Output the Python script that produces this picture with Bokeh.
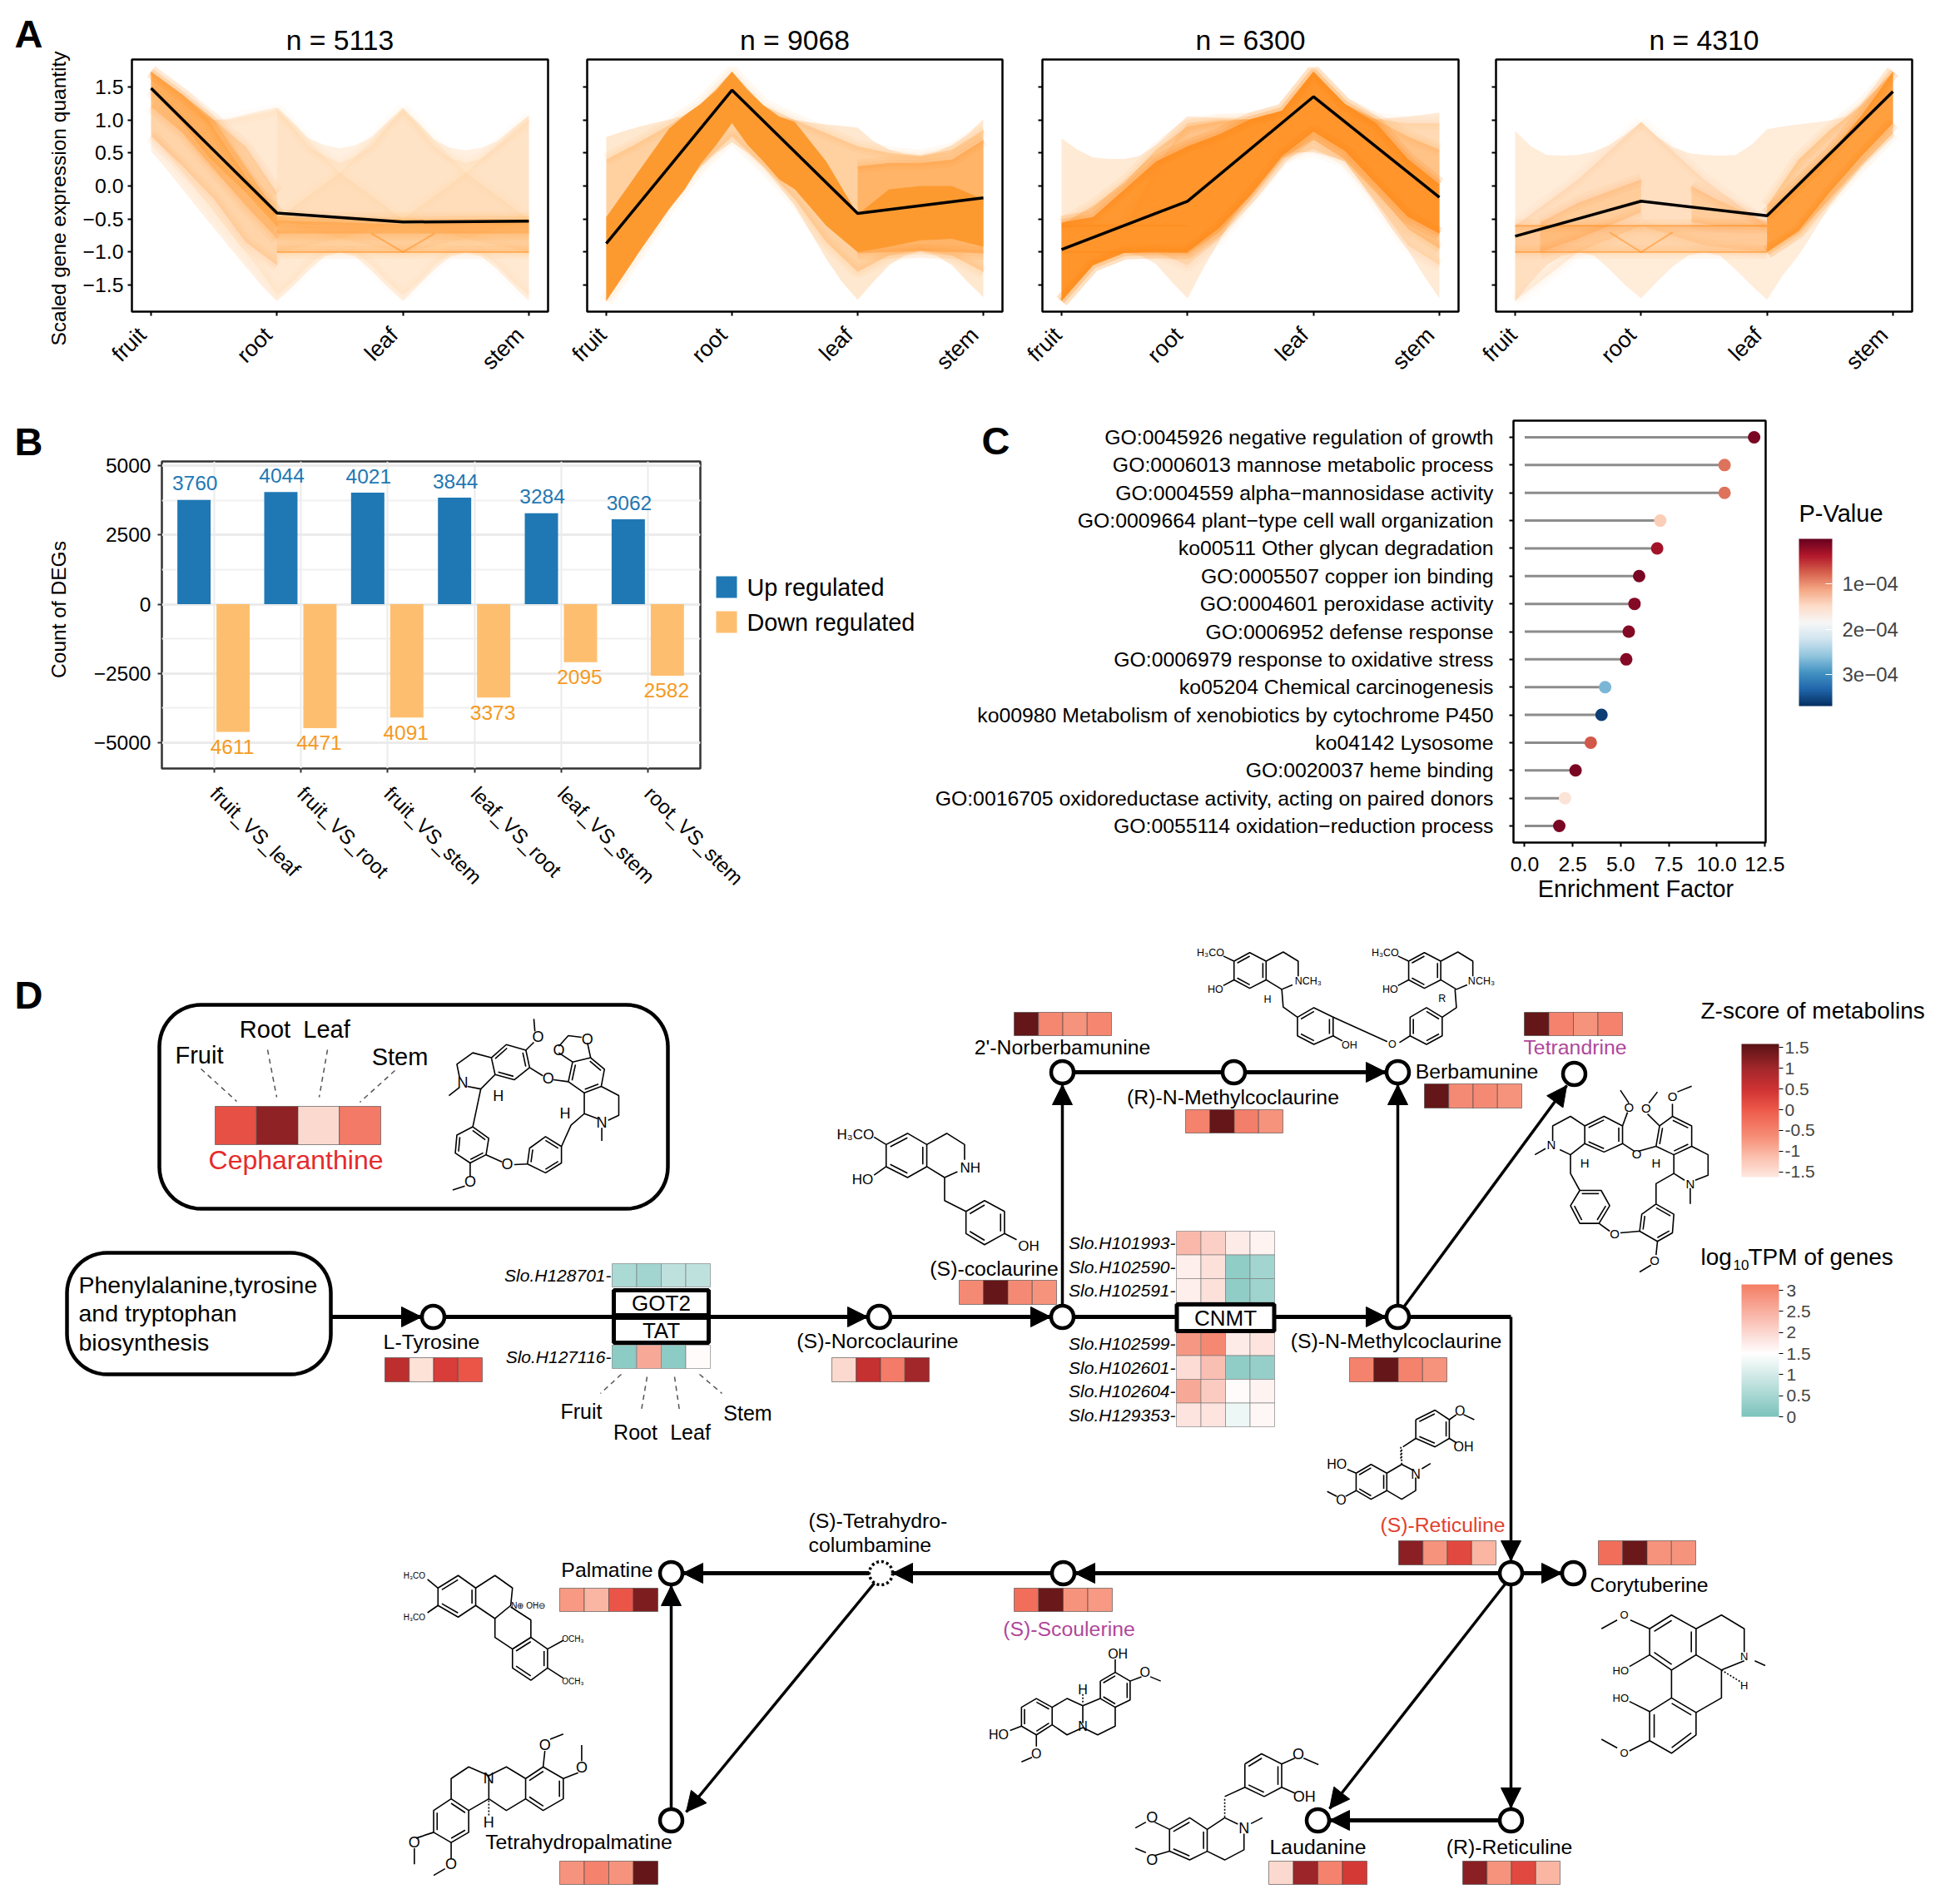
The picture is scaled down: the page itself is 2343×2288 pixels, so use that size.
import math
import numpy as np
from bokeh.plotting import figure
from bokeh.layouts import column, row
from bokeh.embed import file_html
from bokeh.resources import INLINE
from bokeh.models import (Range1d, FixedTicker, LinearColorMapper, ColorBar, ColumnDataSource, AllLabels)
from bokeh.core.properties import value
from bokeh.transform import transform
from bokeh.palettes import RdBu11

FONT = "Liberation Sans"

# ---------------------------------------------------------------- panel A data
TISSUES = ["fruit", "root", "leaf", "stem"]
N_GENES = [5113, 9068, 6300, 4310]
MEAN_1 = [1.48, -0.41, -0.545, -0.53]
MEAN_2 = [-0.87, 1.45, -0.415, -0.18]
MEAN_3 = [-0.96, -0.23, 1.35, -0.17]
MEAN_4 = [-0.76, -0.23, -0.45, 1.43]
X13 = [0, .25, .5, .75, 1, 1.25, 1.5, 1.75, 2, 2.25, 2.5, 2.75, 3]
X25 = [0, .125, .25, .375, .5, .625, .75, .875, 1, 1.125, 1.25, 1.375, 1.5, 1.625, 1.75, 1.875, 2, 2.125, 2.25, 2.375, 2.5, 2.625, 2.75, 2.875, 3]
OUT1_UP = [1.73, 1.55, 1.38, 1.18, 1.0, 1.02, 1.08, 1.14, 1.19, .97, .72, .62, .57, .62, .74, .97, 1.18, .95, .7, .58, .54, .58, .68, .88, 1.07]
OUT1_LOW = [.53, .25, -.05, -.35, -.64, -.93, -1.22, -1.5, -1.74, -1.52, -1.28, -1.07, -1.0, -1.07, -1.28, -1.52, -1.74, -1.5, -1.26, -1.07, -1.0, -1.07, -1.26, -1.5, -1.74]
OUT2_UP = [.74, .82, .89, .95, 1.0, 1.07, 1.24, 1.45, 1.73, 1.45, 1.22, 1.05, 1.0, .96, .93, .91, .88, .68, .55, .49, .47, .52, .62, .78, 1.01]
OUT2_LOW = [-1.74, -1.38, -1.03, -.66, -.3, 0, .28, .5, .66, .5, .28, 0, -.3, -.7, -1.1, -1.45, -1.72, -1.45, -1.2, -1.05, -.99, -1.05, -1.2, -1.45, -1.68]
OUT3_UP = [.72, .55, .43, .41, .41, .46, .62, .85, 1.05, 1.04, 1.03, 1.02, 1.01, 1.03, 1.14, 1.4, 1.73, 1.45, 1.24, 1.06, 1.01, 1.03, 1.05, 1.08, 1.11]
OUT3_LOW = [-1.74, -1.45, -1.2, -1.05, -1.01, -1.05, -1.18, -1.45, -1.7, -1.25, -.84, -.42, -.05, .3, .49, .51, .51, .45, .37, .05, -.3, -.65, -.97, -1.35, -1.7]
OUT4_UP = [.83, .6, .47, .46, .47, .52, .62, .78, .97, .75, .59, .5, .47, .46, .47, .62, .86, .9, .93, .96, .99, 1.05, 1.26, 1.48, 1.73]
OUT4_LOW = [-1.74, -1.45, -1.2, -1.05, -1.0, -1.05, -1.26, -1.5, -1.7, -1.45, -1.22, -1.05, -1.0, -1.05, -1.26, -1.5, -1.72, -1.35, -1.05, -.68, -.3, 0, .28, .52, .74]
# spread of the gene profiles: (opacity, x, upper, lower)
BANDS_1 = [
    (.13, X25, OUT1_UP, OUT1_LOW),
    (.07, X25, [1.73, 1.5, 1.3, 1.1, 1.0, 1.0, 1.05, 1.1, 1.15, .9, .6, .45, .35, .45, .6, .9, 1.15, .9, .6, .42, .35, .42, .6, .8, 1.0],
     [.8, .5, .2, -.1, -.4, -.7, -1.0, -1.3, -1.65, -1.45, -1.2, -1.02, -1.0, -1.02, -1.2, -1.45, -1.65, -1.45, -1.2, -1.02, -1.0, -1.02, -1.2, -1.45, -1.65]),
    (.06, [1, 1.5, 2], [1.19, .2, -.5], [-.5, -.8, -1.0]),
    (.06, [1, 1.5, 2], [-.5, .2, 1.18], [-1.0, -.8, -.5]),
    (.06, [2, 2.5, 3], [1.18, .2, -.5], [-.5, -.8, -1.0]),
    (.06, [2, 2.5, 3], [-.5, .2, 1.07], [-1.0, -.8, -.5]),
    (.22, [0, .25, .5, .75, 1], [1.73, 1.38, 1.0, .6, -.1], [.75, .3, -.2, -.85, -1.2]),
    (.26, [0, .25, .5, .75, 1], [1.73, 1.38, 1.0, .3, -.42], [1.2, .8, .25, -.3, -.8]),
    (.32, [0, .25, .45, .75, 1], [1.73, 1.38, 1.02, .15, -.42], [1.45, .95, .45, -.1, -.62]),
    (.25, [1, 1.5, 2, 2.5, 3], [-.45, -.5, -.5, -.5, -.5], [-1.0, -1.0, -1.0, -1.0, -1.0]),
    (.32, [1, 1.5, 2, 2.5, 3], [-.52, -.55, -.58, -.55, -.55], [-.72, -.72, -.72, -.72, -.72]),
]
LINES_1 = [([1, 3], [-1.0, -1.0]), ([1.75, 2, 2.25], [-.72, -1.0, -.72])]
BANDS_2 = [
    (.20, X25, OUT2_UP, OUT2_LOW),
    (.25, X13, [.4, .65, .92, 1.24, 1.73, 1.22, 1.0, .8, .6, .5, .45, .55, .85],
     [-1.74, -1.03, -.3, .3, .75, .3, -.2, -.85, -1.3, -1.05, -.98, -1.05, -1.3]),
    (.40, [2, 2.25, 2.5, 2.75, 3], [.3, .35, .35, .4, .7], [-1.02, -1.0, -.98, -1.0, -1.02]),
    (.95, [0, .25, .5, .625, .75, .875, 1, 1.125, 1.25, 1.375, 1.5, 1.75, 2, 2.25, 2.5, 2.75, 3],
     [-.47, .2, .87, 1.07, 1.24, 1.45, 1.73, 1.45, 1.22, 1.05, .97, .37, -.43, -.05, 0, 0, -.2],
     [-1.74, -1.03, -.35, -.05, .33, .62, .95, .62, .37, .1, -.05, -.6, -1.0, -.92, -.82, -.8, -.92]),
]
BANDS_3 = [
    (.18, X25, OUT3_UP, OUT3_LOW),
    (.16, X13, [-.6, -.6, -.6, .3, .95, 1.0, 1.01, 1.14, 1.73, 1.24, 1.01, .95, .95],
     [-1.74, -1.2, -1.01, -1.0, -1.2, -.8, -.2, .42, .55, .37, -.25, -.9, -1.2]),
    (.28, X13, [-.58, -.3, .05, .55, .9, .98, 1.01, 1.14, 1.73, 1.24, 1.0, .75, .55],
     [-1.74, -1.2, -1.01, -1.0, -1.02, -.7, -.15, .42, .7, .4, -.1, -.65, -.95]),
    (.80, X13, [-.55, -.47, -.05, .37, .6, .78, 1.01, 1.14, 1.73, 1.24, .95, .41, .03],
     [-1.74, -1.2, -1.01, -.99, -1.0, -.64, -.14, .45, .82, .53, .03, -.47, -.72]),
]
BANDS_4 = [
    (.16, X25, OUT4_UP, OUT4_LOW),
    (.13, [0, .5, 1], [-.6, .1, .97], [-1.74, -1.0, -.6]),
    (.13, [1, 1.5, 2], [.97, .1, -.6], [-.6, -.9, -1.0]),
    (.24, [0, .5, 1, 1.5, 2], [-.6, -.6, -.6, -.6, -.6], [-1.0, -1.0, -1.0, -1.0, -1.0]),
    (.22, [.2, .5, 1], [-.55, -.25, .1], [-1.0, -.8, -.4]),
    (.22, [1.4, 1.6, 2], [.0, -.2, -.55], [-.55, -.6, -.62]),
    (.28, [2, 2.25, 2.5, 2.75, 3], [-.3, .4, .85, 1.22, 1.73], [-1.0, -.7, -.2, .32, .8]),
    (.70, [2, 2.25, 2.5, 2.75, 3], [-.43, .03, .49, 1.07, 1.73], [-1.0, -.68, -.09, .45, .95]),
]
LINES_3 = [([0, 1], [-.6, -.6]), ([0, 1], [-1.0, -1.0])]
LINES_4 = [([0, 2], [-.6, -.6]), ([0, 2], [-1.0, -1.0]), ([.75, 1, 1.25], [-.7, -1.0, -.7])]
Y_TICKS_A = [1.5, 1.0, .5, 0.0, -.5, -1.0, -1.5]
Y_LABELS_A = ["1.5", "1.0", "0.5", "0.0", "\u22120.5", "\u22121.0", "\u22121.5"]

# ---------------------------------------------------------------- panel B data
COMPARISONS = ["fruit_VS_leaf", "fruit_VS_root", "fruit_VS_stem", "leaf_VS_root", "leaf_VS_stem", "root_VS_stem"]
UP_COUNTS = [3760, 4044, 4021, 3844, 3284, 3062]
DOWN_COUNTS = [4611, 4471, 4091, 3373, 2095, 2582]

# ---------------------------------------------------------------- panel C data
GO_TERMS = [
    "GO:0045926 negative regulation of growth", "GO:0006013 mannose metabolic process",
    "GO:0004559 alpha\u2212mannosidase activity", "GO:0009664 plant\u2212type cell wall organization",
    "ko00511 Other glycan degradation", "GO:0005507 copper ion binding", "GO:0004601 peroxidase activity",
    "GO:0006952 defense response", "GO:0006979 response to oxidative stress", "ko05204 Chemical carcinogenesis",
    "ko00980 Metabolism of xenobiotics by cytochrome P450", "ko04142 Lysosome", "GO:0020037 heme binding",
    "GO:0016705 oxidoreductase activity, acting on paired donors", "GO:0055114 oxidation\u2212reduction process"]
ENRICHMENT = [11.95, 10.41, 10.41, 7.06, 6.9, 5.96, 5.72, 5.42, 5.29, 4.19, 4.0, 3.44, 2.65, 2.1, 1.8]
P_VALUES = [.1e-4, .85e-4, .85e-4, 1.4e-4, .3e-4, .1e-4, .15e-4, .15e-4, .15e-4, 2.7e-4, 3.6e-4, .7e-4, .1e-4, 1.6e-4, .1e-4]

# ---------------------------------------------------------------- panel D data
METABOLITES = ["Cepharanthine", "L-Tyrosine", "(S)-Norcoclaurine", "(S)-coclaurine", "2'-Norberbamunine",
               "(R)-N-Methylcoclaurine", "Berbamunine", "Tetrandrine", "(S)-N-Methylcoclaurine", "(S)-Reticuline",
               "Corytuberine", "(S)-Scoulerine", "Palmatine", "Tetrahydropalmatine", "Laudanine", "(R)-Reticuline"]
Z_SCORES = [[.1, 1.15, -1.45, -.4], [.7, -1.55, .35, .05], [-1.45, .6, -.42, 1.0], [-.6, 1.5, -.6, -.7],
            [1.5, -.55, -.7, -.55], [-.5, 1.5, -.45, -.7], [1.5, -.6, -.6, -.7], [1.5, -.5, -.7, -.5],
            [-.5, 1.5, -.5, -.7], [1.2, -.7, .2, -1.05], [-.25, 1.45, -.7, -.7], [-.25, 1.45, -.7, -.75],
            [-.75, -1.05, .05, 1.3], [-.7, -.5, -.7, 1.5], [-1.45, 1.05, -.5, .4], [1.2, -.7, .2, -1.05]]
GENES = ["Slo.H128701", "Slo.H127116", "Slo.H101993", "Slo.H102590", "Slo.H102591",
         "Slo.H102599", "Slo.H102601", "Slo.H102604", "Slo.H129353"]
LOG_TPM = [[.55, .45, .75, .75], [.2, 2.6, .2, 1.55], [2.4, 2.1, 1.75, 1.65], [1.7, 1.9, .25, .45],
           [1.7, 1.9, .25, .4], [2.8, 3.0, 1.75, 1.85], [1.95, 2.3, .25, .3], [2.6, 2.15, 1.55, 1.65],
           [1.85, 1.85, 1.3, 1.6]]

# ---------------------------------------------------------------- layout of the diagram (page pixels)
STRIP_AT = [(258, 1329, 199, 46), (462, 1631, 117, 29), (999, 1631, 117, 29), (1152, 1538, 117, 29),
            (1218, 1216, 117, 28), (1424, 1333, 117, 28), (1711, 1302, 117, 29), (1831, 1216, 118, 28),
            (1621, 1631, 117, 29), (1680, 1851, 117, 29), (1920, 1851, 117, 29), (1218, 1908, 118, 28),
            (672, 1908, 118, 28), (672, 2236, 118, 28), (1524, 2236, 118, 28), (1757, 2236, 117, 28)]
GENE_AT = [(735, 1518, 118, 28), (735, 1616, 118, 28), (1413, 1479, 118, 28.5), (1413, 1507.5, 118, 28.5),
           (1413, 1536, 118, 28.5), (1413, 1600, 118, 28.5), (1413, 1628.5, 118, 28.5), (1413, 1657, 118, 28.5),
           (1413, 1685.5, 118, 28.5)]
NAME_AT = [None, (518, 1612, "black"), (1054, 1611, "black"), (1194, 1524, "black"), (1276, 1258, "black"),
           (1481, 1318, "black"), (1774, 1287, "black"), (1892, 1258, "#B0479B"), (1677, 1611, "black"),
           (1733, 1832, "#E2412F"), (1981, 1904, "black"), (1284, 1957, "#B0479B"), (729, 1886, "black"),
           (695, 2213, "black"), (1583, 2219, "black"), (1813, 2219, "black")]
NODES = [(520, 1582), (1056, 1582), (1276, 1582), (1679, 1582), (1276, 1288), (1482, 1288), (1679, 1288), (1891, 1290),
         (1815, 1890), (1890, 1890), (1277, 1890), (806, 1890), (806, 2187), (1583, 2187), (1815, 2187)]
DASH_NODE = (1058, 1890)
ARROWS = [((397, 1582), (506, 1582), 5), ((534, 1582), (1042, 1582), 5), ((1070, 1582), (1262, 1582), 5),
          ((1290, 1582), (1665, 1582), 5), ((1276, 1567), (1276, 1303), 3.5), ((1496, 1288), (1665, 1288), 5),
          ((1679, 1567), (1679, 1303), 3.5), ((1687, 1569), (1882, 1304), 3.5), ((1815, 1582), (1815, 1875), 3.5),
          ((1829, 1890), (1876, 1890), 5), ((1801, 1890), (1291, 1890), 5), ((1263, 1890), (1072, 1890), 5),
          ((1044, 1890), (820, 1890), 5), ((1050, 1902), (824, 2177), 3.5), ((806, 2172), (806, 1905), 3.5),
          ((1808, 1903), (1597, 2173), 3.5), ((1815, 1905), (1815, 2172), 3.5), ((1801, 2187), (1597, 2187), 5)]
PLAIN = [((1290, 1288), (1468, 1288), 5), ((1693, 1582), (1815, 1582), 5)]

# ---------------------------------------------------------------- helpers
def pal(stops, n=256):
    pos = [s[0] for s in stops]
    rgb = np.array([[int(s[1][i:i+2], 16) for i in (1, 3, 5)] for s in stops], float)
    t = np.linspace(0, 1, n)
    return ["#%02x%02x%02x" % tuple(int(round(np.interp(v, pos, rgb[:, k]))) for k in range(3)) for v in t]

Z_PAL = pal([(0, "#FDE8E0"), (.15, "#FBC0AE"), (.3, "#F68F78"), (.5, "#EE5B4B"), (.66, "#CF3232"), (.81, "#A5282C"), (1, "#5A1315")])
TPM_PAL = pal([(0, "#7CC3BC"), (.478, "#FFFFFF"), (1, "#F47D64")])
RD_PAL = pal([(i / 10, c) for i, c in enumerate(RdBu11)])  # dark blue -> dark red


def style_axes(p, size="24.8px"):
    for ax in (p.xaxis[0], p.yaxis[0]):
        ax.major_label_text_font = FONT
        ax.major_label_text_font_size = size
        ax.major_label_text_color = "black"
        ax.axis_line_color = None
        ax.major_tick_in = 0
        ax.major_tick_out = 5
        ax.minor_tick_line_color = None
        ax.major_tick_line_color = "black"
        ax.major_tick_line_width = 2


# ---------------------------------------------------------------- panel A
def cluster(i, w, h_left, h_right, bands, lines, mean, show_y):
    p = figure(width=w, height=472, output_backend="svg", toolbar_location=None,
               x_range=Range1d(-.152, 3.152), y_range=Range1d(-1.9, 1.913),
               min_border_left=h_left, min_border_right=h_right, min_border_top=63, min_border_bottom=106)
    p.grid.visible = False
    for k, (a, xs, up, low) in enumerate(bands):
        if a >= .9:
            p.varea(x=xs, y1=up, y2=low, fill_color="#FC9A30", fill_alpha=1)
            continue
        p.varea(x=xs, y1=up, y2=low, fill_color="#FF8A14", fill_alpha=a)
        if k > 0:  # soften the edge of the inner bands
            for edge in (up, low):
                p.line(x=xs, y=edge, line_color="#FF8A14", line_alpha=a * .22, line_width=16)
                p.line(x=xs, y=edge, line_color="#FF8A14", line_alpha=a * .22, line_width=8)
    for xs, ysv in lines:
        p.line(x=xs, y=ysv, line_color="#FF8A14", line_alpha=.5, line_width=2)
    p.line(x=[0, 1, 2, 3], y=mean, line_color="black", line_width=3.5)
    p.outline_line_color = "black"
    p.outline_line_width = 2.5
    style_axes(p)
    p.xaxis.major_label_text_font_size = "27px"
    p.xaxis.ticker = FixedTicker(ticks=[0, 1, 2, 3])
    p.xaxis.major_label_overrides = {k: t + "\u00a0\u00a0" for k, t in enumerate(TISSUES)}
    p.xaxis.major_label_orientation = math.pi / 4
    p.xaxis.major_label_standoff = 8
    p.yaxis.ticker = FixedTicker(ticks=Y_TICKS_A)
    if show_y:
        p.yaxis.major_label_overrides = dict(zip(Y_TICKS_A, Y_LABELS_A))
    else:
        p.yaxis.major_label_text_font_size = "1px"
        p.yaxis.major_label_text_color = None
        p.yaxis.major_label_overrides = {v: " " for v in Y_TICKS_A}
    p.title.text = "n = %d" % N_GENES[i]
    p.title.text_font = FONT
    p.title.text_font_size = "33.7px"
    p.title.text_font_style = "normal"
    p.title.text_color = "black"
    p.title.align = "center"
    p.title.offset = 3
    p.title.standoff = 9
    return p


a1 = cluster(0, 673, 150, 23, BANDS_1, LINES_1, MEAN_1, True)
a2 = cluster(1, 547, 24, 24, BANDS_2, [], MEAN_2, False)
a3 = cluster(2, 547, 24, 23, BANDS_3, LINES_3, MEAN_3, False)
a4 = cluster(3, 560, 22, 38, BANDS_4, LINES_4, MEAN_4, False)
row_a = row(a1, a2, a3, a4, spacing=0)

# ---------------------------------------------------------------- panel B
b = figure(width=1082, height=640, output_backend="svg", toolbar_location=None,
           x_range=Range1d(.4, 6.6), y_range=Range1d(-5930, 5150),
           min_border_left=186, min_border_right=249, min_border_top=74, min_border_bottom=197)
idx = np.arange(1, 7)
B_BLUE, B_ORANGE = "#1F78B4", "#FDBF6F"
b.vbar(x=idx - .23, top=UP_COUNTS, bottom=0, width=.383, fill_color=B_BLUE, line_color=None)
b.vbar(x=idx + .22, top=[-v for v in DOWN_COUNTS], bottom=0, width=.383, fill_color=B_ORANGE, line_color=None)
b.text(x=idx - .22, y=[v + 600 for v in UP_COUNTS], text=[str(v) for v in UP_COUNTS], text_font=value(FONT),
       text_font_size="24.5px", text_color=B_BLUE, text_align="center", text_baseline="middle")
b.text(x=idx + .21, y=[-v - 540 for v in DOWN_COUNTS], text=[str(v) for v in DOWN_COUNTS], text_font=value(FONT),
       text_font_size="24.5px", text_color="#F59A23", text_align="center", text_baseline="middle")
style_axes(b, "24.5px")
b.xaxis.ticker = FixedTicker(ticks=list(idx))
b.xaxis.major_label_overrides = {int(i): c for i, c in zip(idx, COMPARISONS)}
b.xaxis.major_label_orientation = -math.pi / 4
b.xaxis.major_label_standoff = 21
b.xaxis.major_tick_line_color = "#333333"
b.yaxis.major_tick_line_color = "#333333"
b.yaxis.ticker = FixedTicker(ticks=[5000, 2500, 0, -2500, -5000], minor_ticks=[3750, 1250, -1250, -3750])
b.yaxis.major_label_overrides = {5000: "5000", 2500: "2500", 0: "0", -2500: "\u22122500", -5000: "\u22125000"}
b.yaxis.major_label_standoff = 8
b.xgrid.ticker = FixedTicker(ticks=list(idx))
b.xgrid.grid_line_color = "#EBEBEB"
b.xgrid.grid_line_width = 2
b.ygrid.grid_line_color = "#EBEBEB"
b.ygrid.grid_line_width = 3
b.ygrid.minor_grid_line_color = "#F0F0F0"
b.ygrid.minor_grid_line_width = 2
b.outline_line_color = "#333333"
b.outline_line_width = 2.5

# ---------------------------------------------------------------- panel C
c = figure(width=1245, height=640, output_backend="svg", toolbar_location=None,
           x_range=Range1d(-.585, 12.55), y_range=Range1d(.4, 15.6),
           min_border_left=728, min_border_right=214, min_border_top=25, min_border_bottom=108)
ys = list(range(15, 0, -1))
p_mapper = LinearColorMapper(palette=RD_PAL, low=-3.7e-4, high=0)
c.grid.visible = False
c.segment(x0=[0] * 15, y0=ys, x1=ENRICHMENT, y1=ys, line_color="#8C8C8C", line_width=3)
csrc = ColumnDataSource(dict(x=ENRICHMENT, y=ys, v=[-v for v in P_VALUES]))
c.scatter(x="x", y="y", source=csrc, size=15, fill_color=transform("v", p_mapper), line_color=None)
style_axes(c)
c.xaxis.ticker = FixedTicker(ticks=[0, 2.5, 5, 7.5, 10, 12.5])
c.xaxis.major_label_overrides = {0: "0.0", 2.5: "2.5", 5: "5.0", 7.5: "7.5", 10: "10.0", 12.5: "12.5"}
c.xaxis.major_label_standoff = 12
c.yaxis.ticker = FixedTicker(ticks=ys)
c.yaxis.major_label_overrides = dict(zip(ys, GO_TERMS))
c.yaxis.major_label_standoff = 19
c.outline_line_color = "black"
c.outline_line_width = 2.5
cb = ColorBar(color_mapper=p_mapper, ticker=FixedTicker(ticks=[-1e-4, -2e-4, -3e-4]),
              major_label_overrides={-1e-4: "1e\u221204", -2e-4: "2e\u221204", -3e-4: "3e\u221204"},
              major_label_policy=AllLabels(),
              width=40, height=201, location=(2161 - 1818, 1012 - 848), padding=0, margin=0,
              major_tick_line_color="white", major_tick_in=8, major_tick_out=0, minor_tick_line_color=None,
              bar_line_color=None, major_label_text_font=FONT, major_label_text_font_size="24px", label_standoff=12,
              background_fill_alpha=0, border_line_color=None)
c.add_layout(cb)

# ---------------------------------------------------------------- overlay: panel D and loose texts
d = figure(width=2343, height=2288, output_backend="svg", toolbar_location=None,
           x_range=Range1d(0, 2343), y_range=Range1d(2288, 0),
           x_axis_type=None, y_axis_type=None, min_border=0, margin=(-1120, 0, 0, 0))
d.grid.visible = False
d.outline_line_color = None
d.background_fill_color = None
d.border_fill_color = None


def txt(x, y, s, size="24.8px", color="black", align="center", style="normal", angle=0):
    d.text(x=[x], y=[y], text=[s], text_font=value(FONT), text_font_size=size, text_color=color,
           text_align=align, text_baseline="middle", text_font_style=style, angle=angle)


txt(70, 238, "Scaled gene expression quantity", "24.5px", angle=math.pi / 2)
txt(70, 732, "Count of DEGs", "24.5px", angle=math.pi / 2)
txt(2161, 616, "P-Value", "29px", align="left")
txt(1965, 1067, "Enrichment Factor", "28.8px")
for s, x, y in [("A", 34, 40), ("B", 34, 530), ("C", 1196, 529), ("D", 34, 1195)]:
    txt(x, y, s, "47px", style="bold")
# legend of panel B
d.rect(x=[872.5, 872.5], y=[705, 747], width=25, height=26, fill_color=[B_BLUE, B_ORANGE], line_color=None)
txt(897, 705, "Up regulated", "28.8px", align="left")
txt(897, 747, "Down regulated", "28.8px", align="left")


def round_box(x0, y0, x1, y1, r):
    cx = [x1 - r, x1 - r, x0 + r, x0 + r]
    cy = [y0 + r, y1 - r, y1 - r, y0 + r]
    st = [-90, 0, 90, 180]
    xs, ys_ = [], []
    for a, b_, s in zip(cx, cy, st):
        t = np.radians(np.linspace(s, s + 90, 14))
        xs += list(a + r * np.cos(t))
        ys_ += list(b_ + r * np.sin(t))
    d.patch(xs + xs[:1], ys_ + ys_[:1], fill_color="white", line_color="black", line_width=4.5)


round_box(191, 1207, 802, 1452, 50)
round_box(80, 1505, 397, 1651, 48)
txt(94, 1543, "Phenylalanine,tyrosine", "28.5px", align="left")
txt(94, 1577, "and tryptophan", "28.5px", align="left")
txt(94, 1612, "biosynthesis", "28.5px", align="left")

# pathway lines and arrow heads
lx, ly, lw = [], [], []
for (a, b_, w) in ARROWS + PLAIN:
    lx.append([a[0], b_[0]])
    ly.append([a[1], b_[1]])
    lw.append(w)
d.multi_line(xs=lx, ys=ly, line_color="black", line_width=lw)
hx, hy = [], []
for (a, b_, w) in ARROWS:
    ang = math.atan2(b_[1] - a[1], b_[0] - a[0])
    L, W = 24, 12
    bx, by = b_[0] - L * math.cos(ang), b_[1] - L * math.sin(ang)
    nx, ny = -math.sin(ang), math.cos(ang)
    hx.append([b_[0], bx + W * nx, bx - W * nx])
    hy.append([b_[1], by + W * ny, by - W * ny])
d.patches(xs=hx, ys=hy, fill_color="black", line_color="black")

d.scatter(x=[n[0] for n in NODES], y=[n[1] for n in NODES], size=27, fill_color="white", line_color="black", line_width=4.5)
d.scatter(x=[DASH_NODE[0]], y=[DASH_NODE[1]], size=28, fill_color="white", line_color="black", line_width=3.5, line_dash="3 3")

# heat strips
z_mapper = LinearColorMapper(palette=Z_PAL, low=-1.63, high=1.59)
t_mapper = LinearColorMapper(palette=TPM_PAL, low=0, high=3.14)


def strips(vals, places, mapper, lc):
    x, y, w, h, v = [], [], [], [], []
    for row_v, (x0, y0, ww, hh) in zip(vals, places):
        cw = ww / 4
        for k, val in enumerate(row_v):
            x.append(x0 + cw * (k + .5))
            y.append(y0 + hh / 2)
            w.append(cw)
            h.append(hh)
            v.append(val)
    src = ColumnDataSource(dict(x=x, y=y, w=w, h=h, v=v))
    d.rect(x="x", y="y", width="w", height="h", source=src, fill_color=transform("v", mapper),
           line_color=lc, line_width=1, line_alpha=.6)


strips(Z_SCORES, STRIP_AT, z_mapper, "#444444")
strips(LOG_TPM, GENE_AT, t_mapper, "#777777")
for name, at in zip(METABOLITES, NAME_AT):
    if at:
        txt(at[0], at[1], name, color=at[2])
txt(355, 1393, "Cepharanthine", "32px", color="#E52B2B")
for g, (x0, y0, ww, hh) in zip(GENES, GENE_AT):
    txt(x0 - 1, y0 + hh / 2, g + "-", "21px", align="right", style="italic")

# enzyme boxes
d.rect(x=[794, 794, 1472], y=[1565, 1598, 1583], width=[114, 114, 117], height=[30, 30, 32], fill_color="white",
       line_color="black", line_width=5)
txt(794, 1565, "GOT2", "26px")
txt(794, 1598, "TAT", "26px")
txt(1472, 1583, "CNMT", "26px")

# tissue keys
DASHES = [((241, 1284), (284, 1323)), ((321, 1261), (332, 1318)), ((393, 1261), (383, 1318)), ((474, 1286), (432, 1324)),
          ((746, 1651), (721, 1674)), ((777, 1654), (770, 1695)), ((810, 1654), (816, 1695)), ((840, 1651), (867, 1674))]
d.multi_line(xs=[[a[0], b_[0]] for a, b_ in DASHES], ys=[[a[1], b_[1]] for a, b_ in DASHES], line_color="#555555",
             line_width=1.5, line_dash="6 5")
for s, x, y, z in [("Fruit", 239, 1267, "29px"), ("Root", 318, 1236, "29px"), ("Leaf", 392, 1236, "29px"), ("Stem", 480, 1269, "29px"),
                   ("Fruit", 698, 1695, "25px"), ("Root", 763, 1720, "25px"), ("Leaf", 829, 1720, "25px"), ("Stem", 898, 1697, "25px")]:
    txt(x, y, s, z)
txt(971, 1827, "(S)-Tetrahydro-", align="left")
txt(971, 1856, "columbamine", align="left")

# colour keys
z_ticks = [1.5, 1, .5, 0, -.5, -1, -1.5]
d.add_layout(ColorBar(color_mapper=z_mapper, ticker=FixedTicker(ticks=z_ticks),
                      major_label_overrides={v: ("%g" % v) for v in z_ticks}, major_label_policy=AllLabels(), width=45, height=160,
                      location=(2092, 2288 - 1414), padding=0, margin=0, major_tick_line_color="black",
                      major_tick_in=0, major_tick_out=5, minor_tick_line_color=None, bar_line_color=None,
                      major_label_text_font=FONT, major_label_text_font_size="21px", label_standoff=2,
                      background_fill_alpha=0, border_line_color=None))
t_ticks = [3, 2.5, 2, 1.5, 1, .5, 0]
d.add_layout(ColorBar(color_mapper=t_mapper, ticker=FixedTicker(ticks=t_ticks),
                      major_label_overrides={v: ("%g" % v) for v in t_ticks}, major_label_policy=AllLabels(), width=45, height=159,
                      location=(2092, 2288 - 1702), padding=0, margin=0, major_tick_line_color="black",
                      major_tick_in=0, major_tick_out=5, minor_tick_line_color=None, bar_line_color=None,
                      major_label_text_font=FONT, major_label_text_font_size="21px", label_standoff=4,
                      background_fill_alpha=0, border_line_color=None))
txt(2043, 1214, "Z-score of metabolins", "28px", align="left")
txt(2043, 1510, "log", "28px", align="left")
txt(2082, 1519, "10", "17px", align="left")
txt(2100, 1510, "TPM of genes", "28px", align="left")

# ---------------------------------------------------------------- chemical structures (skeleton drawings)
def z4(x, y): return (x / 1.568, 1150 + y / 2.53)
def z5(x, y): return (1000 + x / 1.1675, 1130 + y / 2.45)
def z6(x, y): return (450 + x / .95, 1740 + y / 2.861)


BX, BY = [], []
DX, DY = [], []
ATOMS = []


def chain(conv, pts):
    q = [conv(*t) for t in pts]
    BX.append([t[0] for t in q])
    BY.append([t[1] for t in q])


def dash(conv, pts):
    q = [conv(*t) for t in pts]
    DX.append([t[0] for t in q])
    DY.append([t[1] for t in q])


def ring(conv, pts, arom=True):
    q = [conv(*t) for t in pts]
    q2 = q + q[:1]
    BX.append([t[0] for t in q2])
    BY.append([t[1] for t in q2])
    if arom:
        cx = sum(t[0] for t in q) / len(q)
        cy = sum(t[1] for t in q) / len(q)
        for i in range(0, len(q), 2):
            a, b_ = q[i], q[(i + 1) % len(q)]
            BX.append([cx + (a[0] - cx) * .8, cx + (b_[0] - cx) * .8])
            BY.append([cy + (a[1] - cy) * .8, cy + (b_[1] - cy) * .8])


def atoms(conv, items, size="17px"):
    for x, y, s in items:
        px, py = conv(x, y)
        ATOMS.append((px, py, s, size))


# cepharanthine
ring(z4, [(925, 305), (953, 265), (990, 282), (997, 335), (968, 372), (932, 356)])
chain(z4, [(925, 305), (890, 290), (860, 325), (865, 365)])
chain(z4, [(880, 392), (905, 400), (932, 356)])
chain(z4, [(865, 395), (845, 420)])
chain(z4, [(990, 282), (1005, 258)]); chain(z4, [(1007, 225), (1005, 187)])
chain(z4, [(997, 335), (1022, 360)]); chain(z4, [(1042, 372), (1070, 378)])
ring(z4, [(1070, 378), (1078, 318), (1112, 305), (1138, 340), (1132, 392), (1100, 412)])
chain(z4, [(1078, 318), (1052, 290)]); chain(z4, [(1052, 270), (1070, 238), (1095, 243)]); chain(z4, [(1106, 260), (1112, 305)])
chain(z4, [(1132, 392), (1165, 420), (1165, 480), (1145, 495)])
chain(z4, [(1125, 490), (1100, 475), (1100, 412)])
chain(z4, [(1133, 518), (1133, 558)])
chain(z4, [(905, 400), (890, 515)])
ring(z4, [(890, 515), (920, 550), (915, 600), (885, 625), (857, 595), (860, 540)])
chain(z4, [(885, 625), (885, 665)]); chain(z4, [(875, 695), (852, 707)])
chain(z4, [(915, 600), (945, 622)]); chain(z4, [(968, 630), (993, 628)])
ring(z4, [(993, 628), (997, 580), (1027, 545), (1057, 575), (1057, 625), (1027, 655)])
chain(z4, [(1057, 575), (1075, 510), (1100, 475)])
atoms(z4, [(871, 382, "N"), (1013, 242, "O"), (1032, 367, "O"), (1052, 282, "O"), (1106, 248, "O"), (1133, 503, "N"),
           (885, 682, "O"), (955, 628, "O"), (938, 422, "H"), (1064, 474, "H")], "18px")

# (S)-coclaurine
ring(z5, [(75, 600), (105, 567), (132, 600), (132, 665), (105, 697), (75, 665)])
chain(z5, [(132, 600), (160, 567), (185, 600), (185, 645)])
chain(z5, [(175, 680), (157, 697), (132, 665)])
chain(z5, [(58, 578), (75, 600)]); chain(z5, [(58, 690), (75, 665)])
chain(z5, [(157, 697), (157, 765), (187, 797)])
ring(z5, [(187, 797), (213, 765), (241, 797), (241, 862), (213, 895), (187, 862)])
chain(z5, [(241, 862), (258, 880)])
atoms(z5, [(193, 668, "NH"), (32, 570, "H\u2083CO"), (42, 702, "HO"), (275, 900, "OH")], "17px")

# berbamunine dimer
for dx in (0, 245):
    ring(z5, [(563 + dx, 60), (585 + dx, 35), (608 + dx, 60), (608 + dx, 115), (585 + dx, 140), (563 + dx, 115)])
    chain(z5, [(608 + dx, 60), (632 + dx, 33), (653 + dx, 60), (653 + dx, 105)])
    chain(z5, [(645 + dx, 130), (630 + dx, 143), (608 + dx, 115)])
    chain(z5, [(548 + dx, 45), (563 + dx, 60)]); chain(z5, [(548 + dx, 132), (563 + dx, 115)])
chain(z5, [(630, 143), (632, 195), (652, 225)])
ring(z5, [(652, 225), (675, 197), (702, 225), (702, 280), (675, 305), (652, 280)])
chain(z5, [(702, 280), (715, 295)])
chain(z5, [(702, 225), (778, 297)]); chain(z5, [(795, 300), (810, 280)])
ring(z5, [(810, 280), (810, 225), (833, 197), (855, 225), (855, 280), (833, 305)])
chain(z5, [(855, 225), (875, 197), (873, 143)])
atoms(z5, [(530, 35, "H\u2083CO"), (775, 35, "H\u2083CO"), (537, 143, "HO"), (782, 143, "HO"), (667, 120, "NCH\u2083"),
           (910, 120, "NCH\u2083"), (610, 172, "H"), (855, 170, "R"), (725, 307, "OH"), (785, 304, "O")], "12.5px")

# tetrandrine
ring(z5, [(1055, 545), (1082, 517), (1108, 545), (1108, 597), (1082, 622), (1055, 597)])
chain(z5, [(1055, 545), (1035, 517), (1010, 545), (1010, 590)])
chain(z5, [(1020, 615), (1035, 630), (1055, 597)])
chain(z5, [(1000, 612), (985, 630)])
chain(z5, [(1108, 545), (1115, 505)]); chain(z5, [(1117, 478), (1105, 440)])
chain(z5, [(1108, 597), (1125, 620)]); chain(z5, [(1130, 620), (1155, 605)])
ring(z5, [(1155, 605), (1160, 545), (1178, 517), (1205, 545), (1205, 605), (1180, 630)])
chain(z5, [(1160, 545), (1143, 510)]); chain(z5, [(1145, 478), (1157, 445)])
chain(z5, [(1178, 517), (1178, 480)]); chain(z5, [(1185, 445), (1205, 428)])
chain(z5, [(1205, 605), (1228, 630), (1228, 690), (1210, 705)])
chain(z5, [(1195, 705), (1180, 685), (1180, 630)])
chain(z5, [(1203, 728), (1203, 775)])
chain(z5, [(1035, 630), (1035, 685), (1048, 735)])
ring(z5, [(1048, 735), (1078, 735), (1090, 780), (1075, 832), (1048, 832), (1035, 780)])
chain(z5, [(1075, 832), (1090, 855)]); chain(z5, [(1105, 860), (1132, 855)])
chain(z5, [(1180, 685), (1155, 715), (1155, 775)])
ring(z5, [(1155, 775), (1180, 805), (1178, 860), (1157, 885), (1132, 855), (1135, 805)])
chain(z5, [(1157, 885), (1155, 925)]); chain(z5, [(1148, 955), (1132, 975)])
atoms(z5, [(1008, 600, "N"), (1117, 490, "O"), (1128, 628, "O"), (1141, 492, "O"), (1178, 457, "O"), (1203, 715, "N"),
           (1055, 655, "H"), (1155, 655, "H"), (1097, 862, "O"), (1153, 942, "O")], "15px")

# (S)-reticuline
ring(z5, [(818, 1410), (845, 1382), (865, 1410), (865, 1465), (845, 1490), (818, 1465)])
chain(z5, [(865, 1410), (875, 1395)]); chain(z5, [(885, 1395), (900, 1410)])
chain(z5, [(865, 1465), (875, 1478)])
chain(z5, [(818, 1465), (800, 1490)])
dash(z5, [(797, 1490), (797, 1530)])
atoms(z5, [(880, 1385, "O"), (885, 1490, "OH")], "16px")
ring(z6, [(1120, 85), (1137, 55), (1155, 85), (1155, 145), (1137, 175), (1120, 145)])
chain(z6, [(1155, 85), (1172, 55), (1185, 75)])
chain(z6, [(1188, 100), (1188, 145), (1172, 175), (1155, 145)])
chain(z6, [(1195, 70), (1205, 52)])
chain(z6, [(1110, 72), (1120, 85)])
chain(z6, [(1120, 145), (1108, 165)]); chain(z6, [(1098, 165), (1087, 148)])
dash(z6, [(1172, 55), (1172, 0)])
atoms(z6, [(1188, 88, "N"), (1098, 55, "HO"), (1103, 178, "O")], "16px")

# palmatine
ring(z6, [(72, 480), (95, 437), (115, 480), (115, 540), (95, 580), (72, 540)])
chain(z6, [(115, 480), (137, 437), (157, 480), (155, 540), (137, 585), (115, 540)])
chain(z6, [(137, 585), (137, 650), (157, 690), (178, 650), (178, 590), (155, 545)])
ring(z6, [(157, 690), (178, 650), (197, 690), (197, 755), (178, 797), (157, 755)])
chain(z6, [(197, 690), (215, 660)]); chain(z6, [(197, 755), (215, 790)])
chain(z6, [(60, 450), (72, 480)]); chain(z6, [(60, 565), (72, 540)])
atoms(z6, [(45, 437, "H\u2083CO"), (45, 580, "H\u2083CO"), (226, 655, "OCH\u2083"), (226, 800, "OCH\u2083"), (175, 540, "N\u2295 OH\u2296")], "10px")

# (S)-scoulerine
ring(z6, [(828, 800), (845, 770), (862, 800), (862, 865), (845, 890), (828, 860)])
chain(z6, [(845, 770), (845, 725)])
chain(z6, [(862, 800), (875, 785)]); chain(z6, [(885, 785), (897, 800)])
chain(z6, [(845, 890), (845, 955), (825, 985), (808, 960)])
chain(z6, [(828, 860), (808, 885), (808, 945)])
chain(z6, [(808, 885), (790, 860), (773, 890)]); chain(z6, [(773, 950), (790, 985), (808, 960)])
ring(z6, [(773, 890), (755, 860), (738, 890), (738, 955), (755, 985), (773, 950)])
chain(z6, [(738, 955), (725, 970)])
chain(z6, [(755, 985), (755, 1025)]); chain(z6, [(750, 1062), (738, 1078)])
dash(z6, [(808, 845), (808, 880)])
atoms(z6, [(848, 708, "OH"), (879, 770, "O"), (808, 955, "N"), (808, 830, "H"), (712, 985, "HO"), (755, 1050, "O")], "16px")

# tetrahydropalmatine
ring(z6, [(172, 1135), (192, 1095), (215, 1135), (215, 1205), (192, 1245), (172, 1205)])
chain(z6, [(192, 1095), (194, 1040)]); chain(z6, [(200, 1000), (215, 982)])
chain(z6, [(215, 1135), (232, 1115)]); chain(z6, [(236, 1075), (236, 1020)])
chain(z6, [(172, 1135), (150, 1095), (130, 1125), (130, 1205), (150, 1245), (172, 1205)])
chain(z6, [(130, 1125), (107, 1095), (87, 1135), (87, 1205)])
chain(z6, [(130, 1205), (107, 1245)])
ring(z6, [(87, 1205), (107, 1245), (107, 1320), (87, 1355), (67, 1320), (67, 1245)])
chain(z6, [(67, 1320), (47, 1340)]); chain(z6, [(45, 1375), (45, 1430)])
chain(z6, [(87, 1355), (87, 1410)]); chain(z6, [(80, 1445), (67, 1468)])
dash(z6, [(130, 1210), (130, 1265)])
atoms(z6, [(194, 1020, "O"), (236, 1098, "O"), (130, 1135, "N"), (130, 1285, "H"), (45, 1355, "O"), (87, 1430, "O")], "18px")

# corytuberine
ring(z6, [(1455, 620), (1480, 573), (1508, 620), (1508, 710), (1480, 762), (1455, 710)])
chain(z6, [(1508, 620), (1537, 573), (1563, 620), (1563, 700)])
chain(z6, [(1563, 730), (1537, 762), (1508, 710)])
chain(z6, [(1575, 730), (1587, 747)])
chain(z6, [(1455, 620), (1433, 590)]); chain(z6, [(1418, 590), (1400, 620)])
chain(z6, [(1455, 710), (1432, 750)])
chain(z6, [(1480, 762), (1480, 858)])
chain(z6, [(1537, 762), (1537, 858), (1508, 908)])
dash(z6, [(1537, 762), (1560, 805)])
ring(z6, [(1480, 858), (1508, 908), (1508, 985), (1480, 1048), (1455, 1005), (1455, 905)])
chain(z6, [(1455, 905), (1432, 870)])
chain(z6, [(1455, 1005), (1432, 1040)]); chain(z6, [(1418, 1030), (1400, 1000)])
atoms(z6, [(1426, 572, "O"), (1563, 715, "N"), (1422, 763, "HO"), (1422, 857, "HO"), (1426, 1048, "O"), (1563, 815, "H")], "13px")

# laudanine
ring(z6, [(993, 1085), (1012, 1050), (1035, 1085), (1035, 1165), (1015, 1197), (993, 1165)])
chain(z6, [(1035, 1085), (1050, 1065)]); chain(z6, [(1060, 1065), (1077, 1087)])
chain(z6, [(1035, 1165), (1050, 1185)])
chain(z6, [(993, 1165), (970, 1197)])
dash(z6, [(970, 1205), (970, 1270)])
ring(z6, [(907, 1310), (930, 1270), (950, 1310), (950, 1385), (930, 1415), (907, 1385)])
chain(z6, [(950, 1310), (970, 1270), (985, 1292)])
chain(z6, [(992, 1325), (992, 1380), (970, 1415), (950, 1385)])
chain(z6, [(1000, 1290), (1013, 1270)])
chain(z6, [(907, 1310), (890, 1285)]); chain(z6, [(880, 1285), (868, 1305)])
chain(z6, [(907, 1385), (890, 1400)]); chain(z6, [(880, 1390), (868, 1375)])
atoms(z6, [(1054, 1050, "O"), (1061, 1197, "OH"), (992, 1305, "N"), (887, 1270, "O"), (887, 1415, "O")], "18px")

d.multi_line(xs=BX, ys=BY, line_color="black", line_width=1.6)
d.multi_line(xs=DX, ys=DY, line_color="black", line_width=1.6, line_dash="2 2")
for px, py, s, size in ATOMS:
    d.text(x=[px], y=[py], text=[s], text_font=value(FONT), text_font_size=size, text_align="center",
           text_baseline="middle")

content = column(row_a, row(b, column(c), spacing=0), spacing=0, margin=(8, 0, 0, 8))
page = column(content, d, spacing=0)
open("out.html", "w").write(file_html(page, INLINE))
